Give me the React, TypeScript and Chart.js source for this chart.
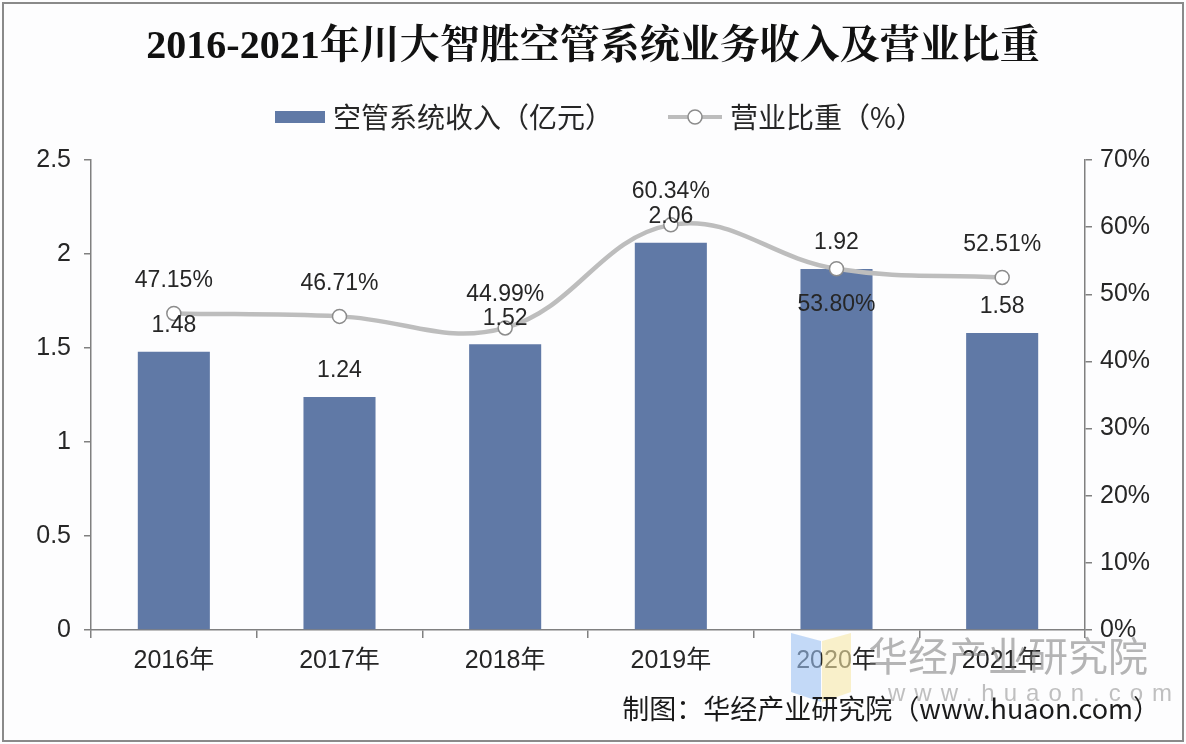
import React, { useEffect, useRef } from "react";
import { Chart, registerables } from "chart.js";

Chart.register(...registerables);

const categories = ["2016年", "2017年", "2018年", "2019年", "2020年", "2021年"];
const revenue = [1.48, 1.24, 1.52, 2.06, 1.92, 1.58];
const share = [47.15, 46.71, 44.99, 60.34, 53.8, 52.51];
const leftTickMax = 2.5;
const leftTickStep = 0.5;
const rightTickMax = 70;
const rightTickStep = 10;

const TITLE = "2016-2021年川大智胜空管系统业务收入及营业比重";
const BAR_LABEL = "空管系统收入（亿元）";
const LINE_LABEL = "营业比重（%）";
const FOOTER = "制图：华经产业研究院（www.huaon.com）";

const SANS = "'Liberation Sans', 'Noto Sans CJK SC', sans-serif";
const CJK = "'Noto Sans CJK SC', 'Liberation Sans', sans-serif";
const BAR_COLOR = "#6079A6";
const LINE_COLOR = "#BDBDBD";
const POINT_BORDER = "#8C8C8C";
const TEXT = "#262626";
const AXIS = "#808080";

const backgroundPlugin = {
  id: "bgFrame",
  beforeDraw(chart: any) {
    const { ctx, width, height } = chart;
    ctx.save();
    ctx.fillStyle = "#FDFDFE";
    ctx.fillRect(0, 0, width, height);
    ctx.restore();
  },
  afterDraw(chart: any) {
    const { ctx, width, height } = chart;
    ctx.save();
    // watermark logo
    ctx.globalAlpha = 0.6;
    ctx.fillStyle = "#9CC2F2";
    ctx.beginPath();
    ctx.moveTo(791, 633);
    ctx.lineTo(821, 641);
    ctx.lineTo(821, 702);
    ctx.lineTo(791, 692);
    ctx.closePath();
    ctx.fill();
    ctx.fillStyle = "#F7E8A6";
    ctx.beginPath();
    ctx.moveTo(822, 641);
    ctx.lineTo(851, 633);
    ctx.lineTo(851, 692);
    ctx.lineTo(822, 702);
    ctx.closePath();
    ctx.fill();
    ctx.globalAlpha = 1;
    // watermark text
    ctx.fillStyle = "rgba(120,120,120,0.55)";
    ctx.textBaseline = "middle";
    ctx.textAlign = "left";
    ctx.font = `40px ${CJK}`;
    ctx.fillText("华经产业研究院", 868, 656);
    ctx.fillStyle = "rgba(130,130,130,0.5)";
    ctx.font = `24px ${SANS}`;
    (ctx as any).letterSpacing = "9px";
    ctx.fillText("www.huaon.com", 888, 694);
    (ctx as any).letterSpacing = "0px";

    // legend
    const ly = 117;
    ctx.fillStyle = BAR_COLOR;
    ctx.fillRect(275, ly - 6, 50, 12);
    ctx.fillStyle = TEXT;
    ctx.font = `28px ${CJK}`;
    ctx.textAlign = "left";
    ctx.fillText(BAR_LABEL, 333, ly);
    ctx.strokeStyle = LINE_COLOR;
    ctx.lineWidth = 4;
    ctx.beginPath();
    ctx.moveTo(668, ly);
    ctx.lineTo(722, ly);
    ctx.stroke();
    ctx.beginPath();
    ctx.arc(695, ly, 7, 0, Math.PI * 2);
    ctx.fillStyle = "#FFFFFF";
    ctx.fill();
    ctx.strokeStyle = POINT_BORDER;
    ctx.lineWidth = 1.5;
    ctx.stroke();
    ctx.fillStyle = TEXT;
    ctx.fillText(LINE_LABEL, 730, ly);

    // footer
    ctx.textAlign = "right";
    ctx.font = `27px ${CJK}`;
    ctx.fillStyle = "#1A1A1A";
    ctx.fillText(FOOTER, 1160, 709);

    // frame
    ctx.strokeStyle = "#8A8A8A";
    ctx.lineWidth = 2;
    ctx.strokeRect(3, 3, width - 6, height - 6);
    ctx.restore();
  },
};

const valueLabelPlugin = {
  id: "valueLabels",
  afterDatasetsDraw(chart: any) {
    const ctx = chart.ctx;
    ctx.save();
    ctx.font = `23px ${SANS}`;
    ctx.fillStyle = TEXT;
    ctx.textAlign = "center";
    ctx.textBaseline = "middle";
    const barMeta = chart.getDatasetMeta(0);
    barMeta.data.forEach((el: any, i: number) => {
      ctx.fillText(revenue[i].toFixed(2), el.x, el.y - 26);
    });
    const lineMeta = chart.getDatasetMeta(1);
    lineMeta.data.forEach((el: any, i: number) => {
      const below = i === 4;
      ctx.fillText(share[i].toFixed(2) + "%", el.x, below ? el.y + 36 : el.y - 33);
    });
    ctx.restore();
  },
};

export default function App() {
  const canvasRef = useRef<HTMLCanvasElement | null>(null);

  useEffect(() => {
    if (!canvasRef.current) return;
    const chart = new Chart(canvasRef.current, {
      type: "bar",
      data: {
        labels: categories,
        datasets: [
          {
            type: "bar",
            label: BAR_LABEL,
            data: revenue,
            backgroundColor: BAR_COLOR,
            yAxisID: "y",
            categoryPercentage: 1,
            barPercentage: 0.435,
            order: 2,
          },
          {
            type: "line",
            label: LINE_LABEL,
            data: share,
            yAxisID: "y1",
            borderColor: LINE_COLOR,
            borderWidth: 4.5,
            tension: 0.4,
            pointRadius: 7,
            pointBackgroundColor: "#FFFFFF",
            pointBorderColor: POINT_BORDER,
            pointBorderWidth: 1.5,
            order: 1,
          } as any,
        ],
      },
      options: {
        responsive: false,
        animation: false,
        devicePixelRatio: 1,
        layout: { padding: { left: 0, right: 0, top: 0, bottom: 0 } },
        plugins: {
          legend: { display: false },
          tooltip: { enabled: false },
          title: {
            display: true,
            text: TITLE,
            color: "#111111",
            font: {
              family: "'Liberation Serif', 'Noto Serif CJK SC', 'Noto Sans CJK SC', serif",
              size: 40,
              weight: "bold",
              lineHeight: 1.2,
            },
            padding: { top: 24, bottom: 88 },
          },
        },
        scales: {
          x: {
            type: "category",
            offset: true,
            grid: {
              offset: true,
              drawOnChartArea: false,
              drawTicks: true,
              tickLength: 8,
              color: AXIS,
              lineWidth: 1.5,
            },
            border: { display: true, color: AXIS, width: 1.5 },
            ticks: {
              color: TEXT,
              font: { family: SANS, size: 25 },
              padding: 8,
              maxRotation: 0,
            },
            afterFit(scale: any) {
              scale.height = 114;
            },
          },
          y: {
            position: "left",
            min: 0,
            max: leftTickMax,
            grid: {
              drawOnChartArea: false,
              drawTicks: true,
              tickLength: 7,
              color: AXIS,
              lineWidth: 1.5,
            },
            border: { display: true, color: AXIS, width: 1.5 },
            ticks: {
              stepSize: leftTickStep,
              color: TEXT,
              font: { family: SANS, size: 25 },
              padding: 13,
              callback: (v: any) => String(Number(v)),
            },
            afterFit(scale: any) {
              scale.width = 91;
            },
          },
          y1: {
            position: "right",
            min: 0,
            max: rightTickMax,
            grid: {
              drawOnChartArea: false,
              drawTicks: true,
              tickLength: 7,
              color: AXIS,
              lineWidth: 1.5,
            },
            border: { display: true, color: AXIS, width: 1.5 },
            ticks: {
              stepSize: rightTickStep,
              color: TEXT,
              font: { family: SANS, size: 25 },
              padding: 8,
              callback: (v: any) => `${v}%`,
            },
            afterFit(scale: any) {
              scale.width = 101;
            },
          },
        },
      },
      plugins: [backgroundPlugin, valueLabelPlugin],
    } as any);
    return () => chart.destroy();
  }, []);

  return (
    <div style={{ position: "fixed", left: 0, top: 0, width: 1186, height: 744 }}>
      <canvas ref={canvasRef} width={1186} height={744} style={{ display: "block" }} />
    </div>
  );
}
